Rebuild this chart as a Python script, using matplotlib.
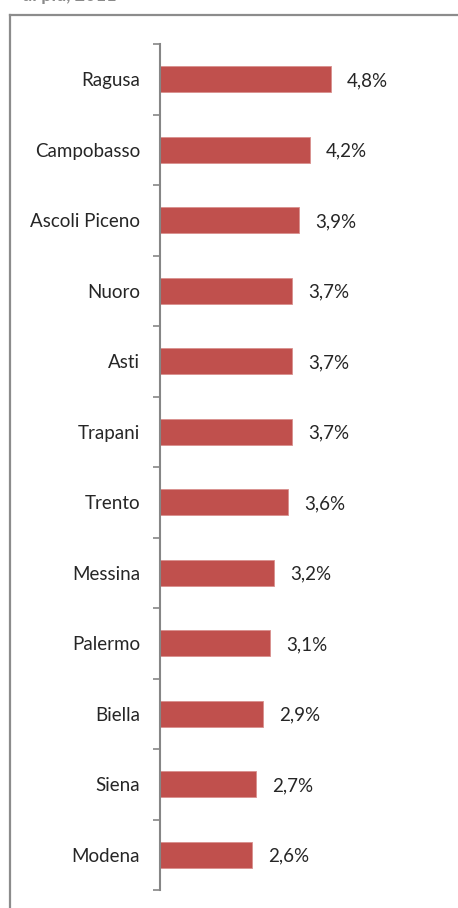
import matplotlib
matplotlib.use("Agg")
import matplotlib.pyplot as plt
from matplotlib.lines import Line2D
import numpy as np

provinces = [
    "Ragusa", "Campobasso", "Ascoli Piceno", "Nuoro", "Asti", "Trapani",
    "Trento", "Messina", "Palermo", "Biella", "Siena", "Modena",
]
values = [4.8, 4.2, 3.9, 3.7, 3.7, 3.7, 3.6, 3.2, 3.1, 2.9, 2.7, 2.6]
value_labels = ["4,8%", "4,2%", "3,9%", "3,7%", "3,7%", "3,7%",
                "3,6%", "3,2%", "3,1%", "2,9%", "2,7%", "2,6%"]

plt.rcParams["font.family"] = ["Lato", "DejaVu Sans"]

W, H = 458, 908
fig = plt.figure(figsize=(W / 100, H / 100), dpi=100)

# axes placed in pixel units
left, top, right, bottom = 159.5, 44, 445.5, 890
ax = fig.add_axes([left / W, 1 - bottom / H, (right - left) / W, (bottom - top) / H])

n = len(provinces)
y = np.arange(n)
ax.barh(y, values, height=0.37, color="#C0504D", edgecolor="#D9908E", linewidth=0.6)
ax.set_ylim(n - 0.5, -0.5)
ax.set_xlim(0, 8)

for yi, v, lab in zip(y, values, value_labels):
    ax.annotate(lab, (v, yi), xytext=(11.5, 0), textcoords="offset points",
                va="center_baseline", ha="left", fontsize=13.5, color="#262626")

ax.set_yticks(y)
ax.set_yticklabels(provinces, fontsize=13.5, color="#262626")
ax.tick_params(axis="y", which="major", length=0, pad=14)
ax.set_yticks(np.arange(-0.5, n, 1.0), minor=True)
ax.tick_params(axis="y", which="minor", length=5, width=1.2, color="#868686", direction="out")
ax.set_xticks([])

for s in ["top", "right", "bottom"]:
    ax.spines[s].set_visible(False)
ax.spines["left"].set_color("#868686")
ax.spines["left"].set_linewidth(1.5)

# outer frame of the panel
fc = "#8C8C8C"
fig.add_artist(Line2D([10 / W, 10 / W], [0, 1 - 14.5 / H], transform=fig.transFigure,
                      color=fc, linewidth=1.6))
fig.add_artist(Line2D([10 / W, 457 / W], [1 - 14.5 / H, 1 - 14.5 / H], transform=fig.transFigure,
                      color=fc, linewidth=1.6))

fig.text(22 / W, 1 - 1.5 / H, "di più, 2011", fontsize=13, fontweight="bold",
         color="#8A8A8A", ha="left", va="baseline")

fig.savefig("out.png", dpi=100, facecolor="white")
